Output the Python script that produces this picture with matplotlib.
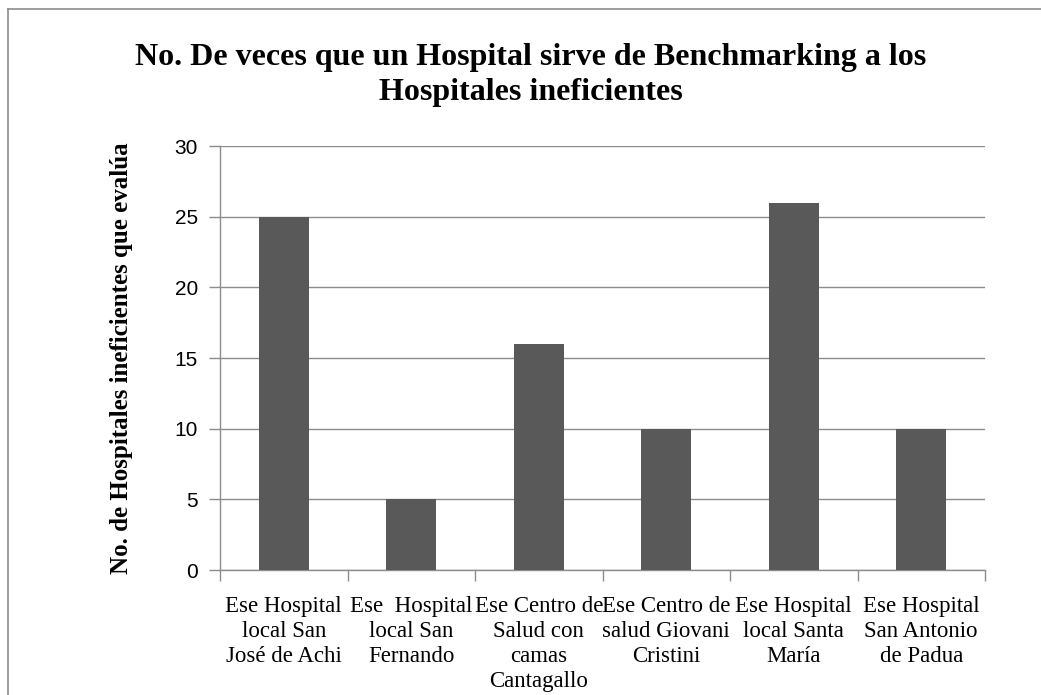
import matplotlib.pyplot as plt
from matplotlib.lines import Line2D

# datos del grafico
hospitales = ['Ese Hospital\nlocal San\nJosé de Achi',
              'Ese  Hospital\nlocal San\nFernando',
              'Ese Centro de\nSalud con\ncamas\nCantagallo',
              'Ese Centro de\nsalud Giovani\nCristini',
              'Ese Hospital\nlocal Santa\nMaría',
              'Ese Hospital\nSan Antonio\nde Padua']
veces = [25, 5, 16, 10, 26, 10]
marcas_y = [0, 5, 10, 15, 20, 25, 30]

W, H = 1041, 695
fig = plt.figure(figsize=(W / 100, H / 100), dpi=100)
ax = fig.add_axes([220 / W, 1 - 570 / H, 765 / W, 424 / H])

gris = '#8c8c8c'
x = list(range(len(hospitales)))
ax.bar(x, veces, width=0.39, color='#595959', zorder=3)
ax.set_xlim(-0.5, len(hospitales) - 0.5)
ax.set_ylim(0, 30)
ax.set_yticks(marcas_y)
ax.set_yticklabels([str(v) for v in marcas_y], family='Liberation Sans', fontsize=15)
ax.grid(axis='y', color=gris, linewidth=1, zorder=0)
ax.set_axisbelow(True)

# marcas del eje x en los limites de categorias
ax.set_xticks([i - 0.5 for i in range(len(hospitales) + 1)])
ax.set_xticklabels([])
ax.set_xticks(x, minor=True)
ax.set_xticklabels(hospitales, minor=True, family='Liberation Serif', fontsize=16.5,
                   linespacing=1.24)
ax.tick_params(axis='x', which='minor', length=0, pad=19)
ax.tick_params(axis='x', which='major', length=8, color=gris, width=1)
ax.tick_params(axis='y', length=8, color=gris, width=1, pad=8)

for lado in ['top', 'right']:
    ax.spines[lado].set_visible(False)
for lado in ['left', 'bottom']:
    ax.spines[lado].set_color(gris)
    ax.spines[lado].set_linewidth(1)

ax.set_ylabel('No. de Hospitales ineficientes que evalúa', family='Liberation Serif',
              fontsize=18, fontweight='bold', labelpad=30)

fig.text(531 / W, 1 - 75 / H,
         'No. De veces que un Hospital sirve de Benchmarking a los\nHospitales ineficientes',
         ha='center', va='center', family='Liberation Serif', fontsize=23,
         fontweight='bold', linespacing=1.3)

# marco de la figura
fig.add_artist(Line2D([8 / W, 1], [1 - 9 / H, 1 - 9 / H], color='#8c8c8c', linewidth=1.2))
fig.add_artist(Line2D([8 / W, 8 / W], [0, 1 - 9 / H], color='#8c8c8c', linewidth=1.2))

fig.savefig('out.png', dpi=100)
